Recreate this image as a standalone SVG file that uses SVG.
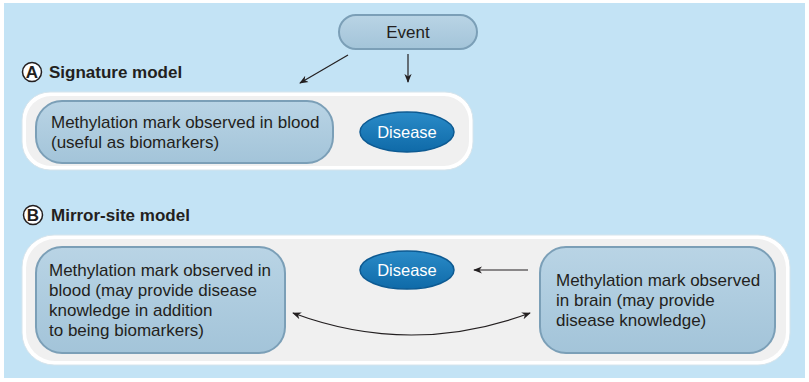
<svg xmlns="http://www.w3.org/2000/svg" width="809" height="382" viewBox="0 0 809 382">
<style>
.t{font-family:"Liberation Sans",Arial,sans-serif;font-size:17px;fill:#231f20}
.h{font-family:"Liberation Sans",Arial,sans-serif;font-size:17px;font-weight:bold;fill:#231f20}
.w{font-family:"Liberation Sans",Arial,sans-serif;font-size:16.5px;fill:#ffffff}
.node{fill:url(#ng);stroke:#7b9fb7;stroke-width:2}
.dis{fill:url(#dg);stroke:#0d5a92;stroke-width:1.5}
.pan{fill:#ffffff;stroke:#d6e4ec;stroke-width:1}
.pin{fill:#f0f0f0}
.ar{fill:none;stroke:#231f20;stroke-width:1.2}
.lc{fill:#ffffff;stroke:#231f20;stroke-width:1.5}
</style>
<defs>
<linearGradient id="ng" x1="0" y1="0" x2="0" y2="1">
<stop offset="0" stop-color="#b9d4e5"/>
<stop offset="1" stop-color="#a3c4d9"/>
</linearGradient>
<linearGradient id="dg" x1="0" y1="0" x2="0" y2="1">
<stop offset="0" stop-color="#2a8bc8"/>
<stop offset="1" stop-color="#0f6aa8"/>
</linearGradient>
<marker id="ah" viewBox="0 0 10 10" refX="9" refY="5" markerWidth="9" markerHeight="9" markerUnits="userSpaceOnUse" orient="auto-start-reverse">
<path d="M0,1 L10,5 L0,9 L3,5 Z" fill="#231f20"/>
</marker>
</defs>
<rect x="4" y="3" width="801" height="375" fill="#c3e3f5"/>
<g id="panelA">
<rect class="pan" x="22" y="92" width="451" height="78" rx="28"/>
<rect class="pin" x="26" y="96" width="443" height="70" rx="25"/>
</g>
<g id="panelB">
<rect class="pan" x="22" y="235" width="768" height="130" rx="32"/>
<rect class="pin" x="26" y="239" width="760" height="122" rx="29"/>
</g>
<g id="labelA">
<circle class="lc" cx="32" cy="72" r="9.5"/>
<text class="h" x="32" y="77.5" text-anchor="middle" font-size="14">A</text>
<text class="h" x="49" y="78">Signature model</text>
</g>
<g id="labelB">
<circle class="lc" cx="33" cy="215" r="9.5"/>
<text class="h" x="33" y="220.5" text-anchor="middle" font-size="14">B</text>
<text class="h" x="51" y="221">Mirror-site model</text>
</g>
<g id="event">
<rect class="node" x="339" y="15" width="138" height="34" rx="17"/>
<text class="t" x="408" y="38" text-anchor="middle">Event</text>
</g>
<g id="bloodA">
<rect class="node" x="36" y="101" width="297" height="62" rx="26"/>
<text class="t" x="51" y="128">Methylation mark observed in blood</text>
<text class="t" x="51" y="148">(useful as biomarkers)</text>
</g>
<g id="diseaseA">
<ellipse class="dis" cx="407" cy="132" rx="47" ry="20"/>
<text class="w" x="407" y="138" text-anchor="middle">Disease</text>
</g>
<g id="bloodB">
<rect class="node" x="36" y="247" width="249" height="106" rx="26"/>
<text class="t" x="49" y="276">Methylation mark observed in</text>
<text class="t" x="49" y="296">blood (may provide disease</text>
<text class="t" x="49" y="316">knowledge in addition</text>
<text class="t" x="49" y="336">to being biomarkers)</text>
</g>
<g id="diseaseB">
<ellipse class="dis" cx="407" cy="270" rx="47" ry="19"/>
<text class="w" x="407" y="276" text-anchor="middle">Disease</text>
</g>
<g id="brain">
<rect class="node" x="540" y="247" width="235" height="106" rx="26"/>
<text class="t" x="556" y="286">Methylation mark observed</text>
<text class="t" x="556" y="306">in brain (may provide</text>
<text class="t" x="556" y="326">disease knowledge)</text>
</g>
<g id="connectors">
<line class="ar" x1="348" y1="55" x2="300" y2="83" marker-end="url(#ah)"/>
<line class="ar" x1="408" y1="54" x2="408" y2="82" marker-end="url(#ah)"/>
<line class="ar" x1="528" y1="270" x2="474" y2="270" marker-end="url(#ah)"/>
<path class="ar" d="M293,313 Q411,357 530,313" marker-start="url(#ah)" marker-end="url(#ah)"/>
</g>
</svg>
